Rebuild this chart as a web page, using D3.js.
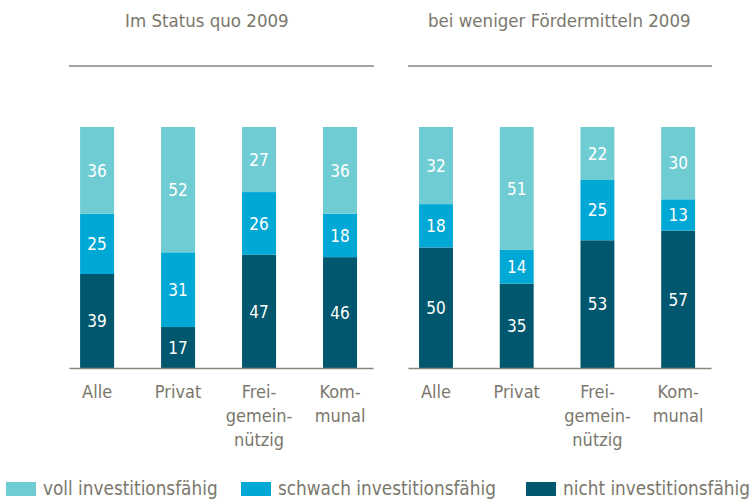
<!DOCTYPE html>
<html lang="de">
<head>
<meta charset="UTF-8">
<title>Investitionsfähigkeit 2009</title>
<style>
  body { margin: 0; background: #fff; }
  svg text { font-family: "Liberation Sans Narrow", "DejaVu Sans Condensed", sans-serif; }
</style>
</head>
<body>
<svg id="chart"></svg>
<script src="https://cdn.jsdelivr.net/npm/d3@7"></script>
<script>
// categories (line breaks as in the original labels)
const categories = ["Alle", "Privat", "Freigemeinnützig", "Kommunal"];
const categoryLines = [["Alle"], ["Privat"], ["Frei-", "gemein-", "nützig"], ["Kom-", "munal"]];

// series, bottom to top
const seriesKeys = ["nicht", "schwach", "voll"];
const seriesNames = ["voll investitionsfähig", "schwach investitionsfähig", "nicht investitionsfähig"]; // legend order

// Im Status quo 2009
const statusNicht = [39, 17, 47, 46];
const statusSchwach = [25, 31, 26, 18];
const statusVoll = [36, 52, 27, 36];

// bei weniger Fördermitteln 2009
const wenigerNicht = [50, 35, 53, 57];
const wenigerSchwach = [18, 14, 25, 13];
const wenigerVoll = [32, 51, 22, 30];

const panelTitles = ["Im Status quo 2009", "bei weniger Fördermitteln 2009"];

const colors = { voll: "#6fccd3", schwach: "#00a8d5", nicht: "#01576d" };
const grey = "#7a776c";

const width = 756, height = 499;
const svg = d3.select("#chart").attr("width", width).attr("height", height);

function rows(nicht, schwach, voll) {
  return categories.map((c, i) => ({ cat: c, nicht: nicht[i], schwach: schwach[i], voll: voll[i] }));
}

const panels = [
  { title: panelTitles[0], data: rows(statusNicht, statusSchwach, statusVoll), x0: 69, x1: 373, titleX: 125 },
  { title: panelTitles[1], data: rows(wenigerNicht, wenigerSchwach, wenigerVoll), x0: 408, x1: 711, titleX: 428 }
];

const y = d3.scaleLinear().domain([0, 100]).range([368, 127]);
const stack = d3.stack().keys(seriesKeys);

panels.forEach(p => {
  const x = d3.scaleBand()
    .domain(categories)
    .range([p.x0, p.x1])
    .paddingInner(0.58)
    .paddingOuter(0.167)
    .align(0.41);

  const g = svg.append("g");

  // title
  g.append("text")
    .attr("x", p.titleX)
    .attr("y", 27)
    .attr("fill", grey)
    .attr("font-size", "18.5px")
    .text(p.title);

  // top rule
  g.append("line")
    .attr("x1", p.x0).attr("x2", p.x1 + 1)
    .attr("y1", 66).attr("y2", 66)
    .attr("stroke", "#8a877c").attr("stroke-width", 1.5);

  const layers = stack(p.data);

  const layer = g.selectAll("g.layer")
    .data(layers)
    .enter().append("g")
    .attr("class", "layer")
    .attr("fill", d => colors[d.key]);

  layer.selectAll("rect")
    .data(d => d)
    .enter().append("rect")
    .attr("x", d => x(d.data.cat))
    .attr("width", x.bandwidth())
    .attr("y", d => y(d[1]))
    .attr("height", d => y(d[0]) - y(d[1]));

  layer.selectAll("text")
    .data(d => d)
    .enter().append("text")
    .attr("x", d => x(d.data.cat) + x.bandwidth() / 2)
    .attr("y", d => (y(d[0]) + y(d[1])) / 2)
    .attr("dy", "0.37em")
    .attr("text-anchor", "middle")
    .attr("fill", "#fff")
    .attr("font-size", "17px")
    .text(d => d[1] - d[0]);

  // x axis
  const axis = g.append("g")
    .attr("transform", "translate(0," + y(0) + ")")
    .call(d3.axisBottom(x).tickSize(0).tickSizeOuter(0));

  axis.select(".domain").attr("stroke", "#8a877c").attr("stroke-width", 1.5);

  axis.selectAll(".tick text")
    .attr("fill", grey)
    .attr("font-size", "18px")
    .attr("y", 0)
    .attr("dy", null)
    .each(function (d) {
      const lines = categoryLines[categories.indexOf(d)];
      const t = d3.select(this).text(null);
      lines.forEach((l, i) => {
        t.append("tspan").attr("x", 0).attr("y", 30 + i * 24).text(l);
      });
    });
});

// legend
const legendX = [6, 241, 526];
const legendKeys = ["voll", "schwach", "nicht"];
const legend = svg.append("g").selectAll("g")
  .data(seriesNames)
  .enter().append("g")
  .attr("transform", (d, i) => "translate(" + legendX[i] + ",482)");

legend.append("rect")
  .attr("width", 30).attr("height", 14)
  .attr("fill", (d, i) => colors[legendKeys[i]]);

legend.append("text")
  .attr("x", 37).attr("y", 13)
  .attr("fill", grey)
  .attr("font-size", "18.8px")
  .text(d => d);
</script>
</body>
</html>
